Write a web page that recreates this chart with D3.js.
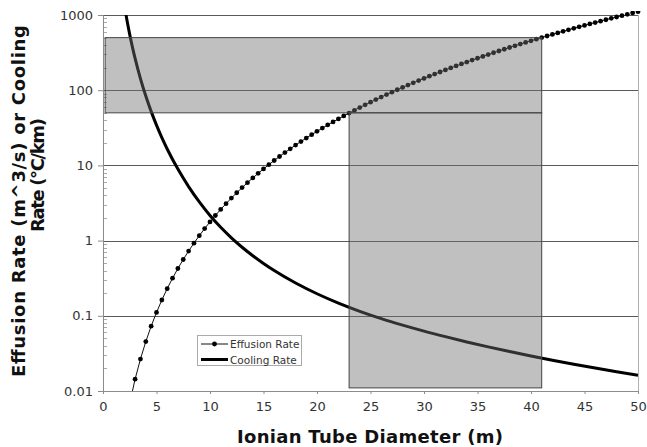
<!DOCTYPE html>
<html><head><meta charset="utf-8">
<script src="https://cdn.jsdelivr.net/npm/d3@7"></script>
<style>html,body{margin:0;padding:0;background:#fff}svg{display:block}</style>
</head><body>
<svg id="chart" width="647" height="447"></svg>
<script>
// ---- data ----
const diameters = [2.5,3,3.5,4,4.5,5,5.5,6,6.5,7,7.5,8,8.5,9,9.5,10,10.5,11,11.5,12,12.5,13,13.5,14,14.5,15,15.5,16,16.5,17,17.5,18,18.5,19,19.5,20,20.5,21,21.5,22,22.5,23,23.5,24,24.5,25,25.5,26,26.5,27,27.5,28,28.5,29,29.5,30,30.5,31,31.5,32,32.5,33,33.5,34,34.5,35,35.5,36,36.5,37,37.5,38,38.5,39,39.5,40,40.5,41,41.5,42,42.5,43,43.5,44,44.5,45,45.5,46,46.5,47,47.5,48,48.5,49,49.5,50];
const effusionRate = [0.006926,0.01436,0.02661,0.04539,0.07271,0.1108,0.1622,0.2298,0.3165,0.4257,0.5610,0.7262,0.9255,1.163,1.444,1.773,2.155,2.596,3.101,3.677,4.329,5.064,5.889,6.811,7.838,8.976,10.234,11.620,13.142,14.809,16.629,18.613,20.769,23.107,25.637,28.369,31.314,34.482,37.886,41.535,45.441,49.617,54.074,58.826,63.883,69.260,74.969,81.024,87.439,94.227,101.40,108.98,116.98,125.40,134.28,143.62,153.43,163.74,174.57,185.92,197.81,210.27,223.31,236.94,251.19,266.07,281.60,297.80,314.70,332.30,350.63,369.71,389.55,410.18,431.63,453.90,477.02,501.02,525.91,551.72,578.46,606.17,634.86,664.56,695.28,727.06,759.92,793.87,828.96,865.19,902.60,941.21,981.04,1022.1,1064.5,1108.2];
const coolingDiameters = [2,2.25,2.5,2.75,3,3.5,4,4.5,5,5.5,6,7,8,9,10,11,12,13,14,15,16,18,20,22,24,26,28,30,32,34,36,38,40,42,44,46,48,50];
const coolingRate = [1339,836,548.5,374.8,264.6,142.8,83.7,52.3,34.3,23.4,16.54,8.925,5.232,3.267,2.160,1.502,1.088,0.8155,0.6286,0.4962,0.3996,0.2727,0.1964,0.1476,0.1148,0.0918,0.0752,0.0626,0.0528,0.0449,0.03862,0.03347,0.02921,0.02567,0.02270,0.02017,0.01802,0.01617];
const xTicks = [0,5,10,15,20,25,30,35,40,45,50];
const yTicks = [0.01,0.1,1,10,100,1000];
const yTickLabels = ["0.01","0.1","1","10","100","1000"];
const boxX0 = [0.2, 23];
const boxX1 = [41, 41];
const boxYLow = [50, 0.011];
const boxYHigh = [500, 50];
const seriesNames = ["Effusion Rate","Cooling Rate"];

// ---- layout ----
const L = 103, R = 638, T = 15, B = 391;
const svg = d3.select("#chart");
const x = d3.scaleLinear().domain([0,50]).range([L,R]);
const y = d3.scaleLog().domain([0.01,1000]).range([B,T]);
const font = "'DejaVu Sans', Verdana, sans-serif";

const defs = svg.append("defs");
defs.append("clipPath").attr("id","plotClip").append("rect")
  .attr("x",L).attr("y",T).attr("width",R-L).attr("height",B-T);
defs.append("clipPath").attr("id","dotClip").append("rect")
  .attr("x",L-3).attr("y",T-4).attr("width",R-L+6).attr("height",B-T+4);

// minor ticks (inside) on y axis
const minor = [];
for (let e=-2;e<3;e++) for (let m=2;m<10;m++) minor.push(m*Math.pow(10,e));
svg.append("g").selectAll("line").data(minor).join("line")
  .attr("x1",L).attr("x2",L+4).attr("y1",d=>Math.round(y(d))+0.5).attr("y2",d=>Math.round(y(d))+0.5)
  .attr("stroke","#aaa").attr("stroke-width",1);

// gridlines
svg.append("g").selectAll("line").data(yTicks.slice(1)).join("line")
  .attr("x1",L).attr("x2",R).attr("y1",d=>Math.round(y(d))+0.5).attr("y2",d=>Math.round(y(d))+0.5)
  .attr("stroke","#5a5a5a").attr("stroke-width",1);

// right border
svg.append("line").attr("x1",R+0.5).attr("x2",R+0.5).attr("y1",T).attr("y2",B)
  .attr("stroke","#b0b0b0").attr("stroke-width",1);

// axes
const xAxis = svg.append("g").attr("transform",`translate(0,${B})`)
  .call(d3.axisBottom(x).tickValues(xTicks).tickSize(3).tickPadding(8).tickFormat(d3.format("d")));
const yAxis = svg.append("g").attr("transform",`translate(${L},0)`)
  .call(d3.axisLeft(y).tickValues(yTicks).tickSize(5).tickPadding(5).tickFormat((d,i)=>yTickLabels[i]));
[xAxis,yAxis].forEach(g=>{
  g.select(".domain").attr("stroke","#8c8c8c");
  g.selectAll(".tick line").attr("stroke","#8c8c8c");
  g.selectAll("text").attr("font-family",font).attr("font-size",13).attr("fill","#333");
});

// lines
const coolData = coolingDiameters.map((d,i)=>[d,coolingRate[i]]);
svg.append("path").datum(coolData).attr("clip-path","url(#plotClip)")
  .attr("fill","none").attr("stroke","#000").attr("stroke-width",3)
  .attr("d", d3.line().x(d=>x(d[0])).y(d=>y(d[1])).curve(d3.curveMonotoneX));

const effData = diameters.map((d,i)=>[d,effusionRate[i]]);
svg.append("path").datum(effData).attr("clip-path","url(#plotClip)")
  .attr("fill","none").attr("stroke","#111").attr("stroke-width",1)
  .attr("d", d3.line().x(d=>x(d[0])).y(d=>y(d[1])));
svg.append("g").attr("clip-path","url(#dotClip)").selectAll("circle").data(effData).join("circle")
  .attr("cx",d=>x(d[0])).attr("cy",d=>y(d[1])).attr("r",2.4).attr("fill","#000");

// shaded overlay boxes
svg.append("g").selectAll("rect").data(boxX0).join("rect")
  .attr("x",(d,i)=>x(boxX0[i])).attr("width",(d,i)=>x(boxX1[i])-x(boxX0[i]))
  .attr("y",(d,i)=>y(boxYHigh[i])).attr("height",(d,i)=>y(boxYLow[i])-y(boxYHigh[i]))
  .attr("fill","#6f6f6f").attr("fill-opacity",0.44)
  .attr("stroke","#444").attr("stroke-width",1);

// legend
const lg = svg.append("g").attr("transform","translate(197,335)");
lg.append("rect").attr("x",0.5).attr("y",0.5).attr("width",104).attr("height",30)
  .attr("fill","#fff").attr("stroke","#aaa");
lg.append("line").attr("x1",4).attr("x2",31).attr("y1",9).attr("y2",9).attr("stroke","#111").attr("stroke-width",1);
lg.append("circle").attr("cx",17.5).attr("cy",9).attr("r",2.4).attr("fill","#000");
lg.append("line").attr("x1",4).attr("x2",31).attr("y1",24.5).attr("y2",24.5).attr("stroke","#000").attr("stroke-width",3);
lg.selectAll("text").data(seriesNames).join("text")
  .attr("x",33).attr("y",(d,i)=>i===0?13:28.5)
  .attr("font-family",font).attr("font-size",10.5).attr("fill","#333").text(d=>d);

// titles
svg.append("text").attr("x",370).attr("y",443).attr("text-anchor","middle")
  .attr("font-family",font).attr("font-weight","bold").attr("font-size",18).attr("fill","#111")
  .attr("textLength",266).attr("lengthAdjust","spacing")
  .text("Ionian Tube Diameter (m)");
svg.append("text").attr("transform","translate(25,201) rotate(-90)").attr("text-anchor","middle")
  .attr("font-family",font).attr("font-weight","bold").attr("font-size",18).attr("fill","#111")
  .attr("textLength",352).attr("lengthAdjust","spacing")
  .text("Effusion Rate (m^3/s) or Cooling");
svg.append("text").attr("transform","translate(44,175) rotate(-90)").attr("text-anchor","middle")
  .attr("font-family",font).attr("font-weight","bold").attr("font-size",18).attr("fill","#111")
  .attr("textLength",114).attr("lengthAdjust","spacing")
  .text("Rate (°C/km)");
</script>
</body></html>
